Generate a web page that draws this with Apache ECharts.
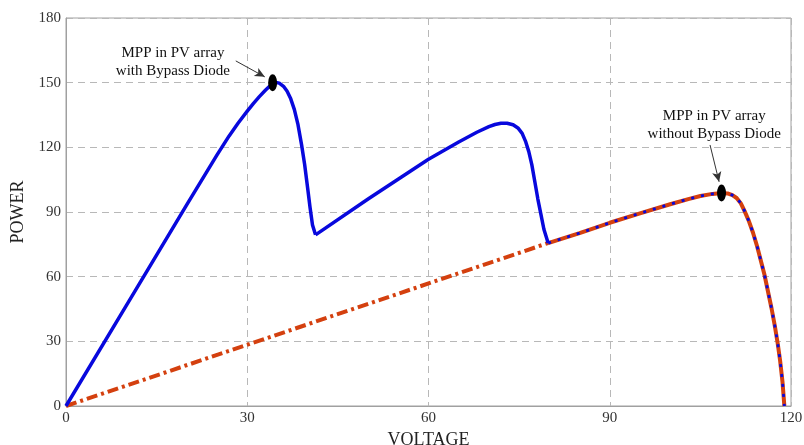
<!DOCTYPE html>
<html><head><meta charset="utf-8">
<script src="https://cdn.jsdelivr.net/npm/echarts@6/dist/echarts.min.js"></script>
<style>html,body{margin:0;padding:0;background:#fff}#c{width:804px;height:445px}</style>
</head><body><div id="c"></div>
<script>
// With bypass diode (blue), first hump: 0 .. 41.3 V
const blueV1 = [0, 10, 20, 25, 27, 28.5, 30, 31, 32, 33, 34, 34.6, 35.3, 36, 36.6, 37.2, 37.8, 38.4, 39, 39.5, 40, 40.4, 40.8, 41.3];
const blueP1 = [0, 46.7, 93.4, 116.5, 125.3, 131.3, 136.8, 140.3, 143.5, 146.5, 149.2, 150.2, 149.8, 148.3, 146, 142.5, 137.5, 130.5, 121, 112, 101, 92, 84, 79.4];
// With bypass diode (blue), second hump: 41.3 .. 79.8 V
const blueV2 = [41.3, 50, 60, 65, 68, 70, 71, 72, 73, 74, 74.8, 75.5, 76.1, 76.6, 77.1, 77.6, 78.1, 78.6, 79.1, 79.8];
const blueP2 = [79.4, 96, 114.5, 122.5, 127, 129.6, 130.6, 131.2, 131.2, 130.5, 129, 126.5, 122.5, 118, 112, 104, 96, 89, 82, 75.6];
// Without bypass diode (red, dash-dot part)
const redV = [0, 79.8];
const redP = [0, 75.6];
// Shared part (both curves)
const sharedV = [79.8, 85, 90, 95, 100, 103, 105, 107, 108.5, 109.5, 110.3, 111, 111.7, 112.3, 113, 113.7, 114.4, 115, 115.6, 116.2, 116.8, 117.3, 117.8, 118.2, 118.6, 118.9];
const sharedP = [75.6, 80.2, 85, 89.4, 93.6, 96, 97.4, 98.4, 98.8, 98.6, 97.8, 96.5, 94, 90.5, 86, 80.5, 74, 67.5, 61, 53, 45, 37.5, 29, 21, 11, 0];
// MPP markers
const mppV = [34.2, 108.5];
const mppP = [150, 98.8];

const pairs = (xs, ys) => xs.map((x, i) => [x, ys[i]]);
const FONT = 'Liberation Serif';
const BLUE = '#0808dd';
const RED = '#d4400f';

const chart = echarts.init(document.getElementById('c'));
chart.setOption({
  animation: false,
  backgroundColor: '#fff',
  grid: {left: 66, right: 13, top: 18, bottom: 39, containLabel: false, outerBoundsMode: 'none',
         show: true, borderColor: '#a0a0a0', borderWidth: 1},
  xAxis: {
    type: 'value', min: 0, max: 120, interval: 30,
    name: 'VOLTAGE', nameLocation: 'middle', nameGap: 24,
    nameTextStyle: {fontFamily: FONT, fontSize: 18, color: '#222'},
    axisLine: {show: true, lineStyle: {color: '#a0a0a0'}},
    axisTick: {show: false},
    axisLabel: {fontFamily: FONT, fontSize: 15, color: '#333', margin: 5},
    splitLine: {show: true, lineStyle: {color: '#b8b8b8', type: [7, 5], width: 1}}
  },
  yAxis: {
    type: 'value', min: 0, max: 180, interval: 30,
    name: 'POWER', nameLocation: 'middle', nameGap: 31, nameRotate: 90,
    nameTextStyle: {fontFamily: FONT, fontSize: 18, color: '#222'},
    axisLine: {show: true, lineStyle: {color: '#a0a0a0'}},
    axisTick: {show: false},
    axisLabel: {fontFamily: FONT, fontSize: 15, color: '#333', margin: 5},
    splitLine: {show: true, lineStyle: {color: '#b8b8b8', type: [7, 5], width: 1}}
  },
  series: [
    {type: 'line', data: pairs(redV, redP), showSymbol: false, z: 2,
     lineStyle: {color: RED, width: 4, type: [11, 4, 3, 4]}},
    {type: 'line', data: pairs(sharedV, sharedP), showSymbol: false, smooth: false, z: 2,
     lineStyle: {color: RED, width: 4, join: 'round'}},
    {type: 'line', data: pairs(blueV1, blueP1), showSymbol: false, smooth: false, z: 3,
     lineStyle: {color: BLUE, width: 3.5, join: 'round'}},
    {type: 'line', data: pairs(blueV2, blueP2), showSymbol: false, smooth: false, z: 3,
     lineStyle: {color: BLUE, width: 3.5, join: 'round'}},
    {type: 'line', data: pairs(sharedV, sharedP), showSymbol: false, smooth: false, z: 3,
     lineStyle: {color: BLUE, width: 2.8, type: [3, 7]}},
    {type: 'scatter', data: pairs(mppV, mppP), symbol: 'circle', symbolSize: [9, 17], z: 5,
     itemStyle: {color: '#000', opacity: 1},
     markLine: {
       silent: true, symbol: ['none', 'arrow'], symbolSize: [7, 10],
       lineStyle: {color: '#333', width: 1, type: 'solid'},
       label: {show: false},
       data: [
         [{coord: [28.1, 160.1]}, {coord: [32.9, 152.7]}],
         [{coord: [106.6, 121.1]}, {coord: [108.1, 104]}]
       ]
     },
     markPoint: {
       silent: true, symbol: 'circle', symbolSize: 0,
       label: {show: true, position: 'inside', fontFamily: FONT, fontSize: 15, color: '#111', lineHeight: 18, align: 'center'},
       data: [
         {coord: [17.7, 159.6], label: {formatter: 'MPP in PV array\nwith Bypass Diode'}},
         {coord: [107.3, 130.4], label: {formatter: 'MPP in PV array\nwithout Bypass Diode'}}
       ]
     }}
  ]
});
</script></body></html>
